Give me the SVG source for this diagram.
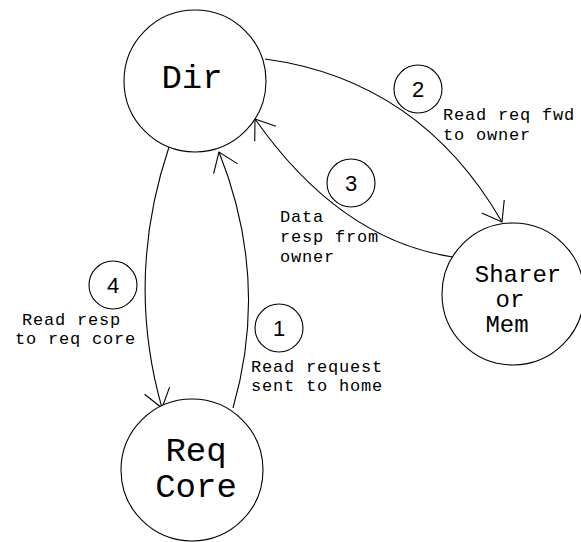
<svg xmlns="http://www.w3.org/2000/svg" width="581" height="542" viewBox="0 0 581 542">
<style>
.n{fill:#fff;stroke:#000;stroke-width:1.1}
.c{fill:none;stroke:#000;stroke-width:1.1}
.big{font-family:"Liberation Mono","Courier New",monospace;font-size:34px;fill:#000;text-anchor:middle}
.mid{font-family:"Liberation Mono","Courier New",monospace;font-size:24px;fill:#000;text-anchor:middle}
.lbl{font-family:"Liberation Mono","Courier New",monospace;font-size:17px;letter-spacing:0.8px;fill:#000}
.num{font-family:"Liberation Sans",Arial,sans-serif;font-size:22px;fill:#000;text-anchor:middle}
</style>
<defs>
<marker id="a" markerUnits="userSpaceOnUse" markerWidth="30" markerHeight="30" viewBox="-25 -15 30 30" refX="0" refY="0" orient="auto" overflow="visible">
<path d="M-18,-13 L0,0 L-18,13" fill="none" stroke="#000" stroke-width="1.1"/>
</marker>
</defs>
<g id="connectors">
<path class="c" d="M233,408 Q270,280 219,152" marker-end="url(#a)"/>
<path class="c" d="M169,147 Q125,278 162,408" marker-end="url(#a)"/>
<path class="c" d="M265,59 Q420,80 502,222" marker-end="url(#a)"/>
<path class="c" d="M453,257 Q340,240 255,119" marker-end="url(#a)"/>
</g>
<g id="dir"><circle class="n" cx="195" cy="81" r="71"/><text class="big" x="192" y="88">Dir</text></g>
<g id="reqcore"><circle class="n" cx="192" cy="470" r="71"/><text class="big" x="196" y="461">Req</text><text class="big" x="196" y="497">Core</text></g>
<g id="sharer"><circle class="n" cx="513" cy="294" r="71"/><text class="mid" x="518" y="282">Sharer</text><text class="mid" x="510" y="307">or</text><text class="mid" x="507" y="332">Mem</text></g>
<g id="n1"><circle class="n" cx="279" cy="328" r="24"/><text class="num" x="279" y="336">1</text></g>
<g id="n2"><circle class="n" cx="418" cy="89" r="24"/><text class="num" x="418" y="97">2</text></g>
<g id="n3"><circle class="n" cx="351" cy="183" r="24"/><text class="num" x="351" y="191">3</text></g>
<g id="n4"><circle class="n" cx="113" cy="285" r="24"/><text class="num" x="113" y="293">4</text></g>
<g id="labels">
<text class="lbl" x="443" y="120">Read req fwd</text>
<text class="lbl" x="443" y="140">to owner</text>
<text class="lbl" x="280" y="222">Data</text>
<text class="lbl" x="280" y="242">resp from</text>
<text class="lbl" x="280" y="262">owner</text>
<text class="lbl" x="22" y="325">Read resp</text>
<text class="lbl" x="15" y="344">to req core</text>
<text class="lbl" x="251" y="372">Read request</text>
<text class="lbl" x="251" y="391">sent to home</text>
</g>
</svg>
